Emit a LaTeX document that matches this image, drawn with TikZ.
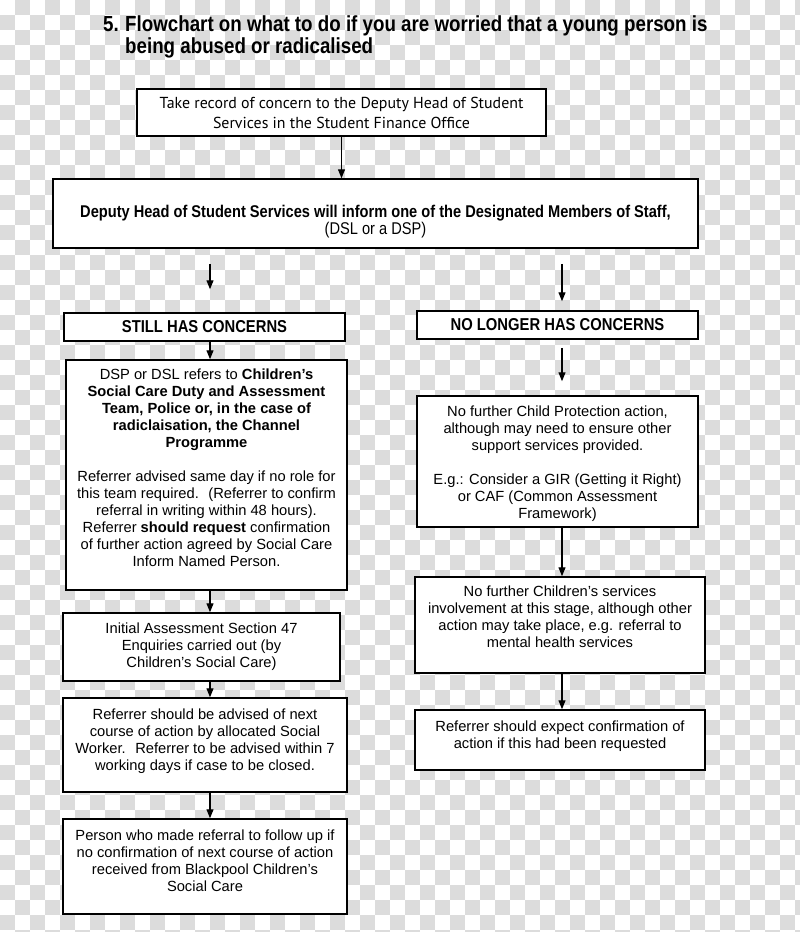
\documentclass[tikz,border=0pt]{standalone}
\usepackage{fontspec}
\setmainfont{Liberation Sans}
\newfontfamily\narrowfont[FakeStretch=0.86]{Liberation Sans}
\newfontfamily\captionfont{PT Sans}
\usetikzlibrary{arrows.meta}
\definecolor{checkgray}{RGB}{220,220,220}
\newcommand\lift[1]{\rule{0pt}{#1}}

\begin{document}
\begin{tikzpicture}[x=1pt, y=-1pt,
        box/.style={draw=black, line width=1.5pt, fill=white, inner sep=0pt, align=center, font=\fontsize{14.7}{17}\selectfont},
        arr/.style={line width=1.2pt, -{Triangle[length=9pt,width=7pt]}}]
    \useasboundingbox (0,0) rectangle (800,932);
    \begin{scope}
        \clip (0,0) rectangle (800,932);
        \fill[white] (0,0) rectangle (800,932);
        \foreach \i in {0,30,...,780}
            \foreach \j in {0,30,...,930} {
                \fill[checkgray] (\i+15,\j) rectangle ++(15,15);
                \fill[checkgray] (\i,\j+15) rectangle ++(15,15);
            }
    \end{scope}

    \node[anchor=north west, inner sep=0pt, font=\narrowfont\bfseries\fontsize{21.8}{22}\selectfont] (num) at (103,16) {5.};
    \node[anchor=north west, inner sep=0pt, align=left, font=\narrowfont\bfseries\fontsize{21.8}{22}\selectfont] (title) at (125,16) {Flowchart on what to do if you are worried that a young person is\\being abused or radicalised};

    \node[box, font=\captionfont\fontsize{15.9}{20}\selectfont, minimum width=409pt, minimum height=47pt] (record) at (341.5,112.5) {Take record of concern to the Deputy Head of Student\\Services in the Student Finance Office};
    \node[box, font=\narrowfont\fontsize{17}{17}\selectfont, minimum width=645pt, minimum height=69pt] (inform) at (375.5,213.5) {\lift{29pt}\textbf{Deputy Head of Student Services will inform one of the Designated Members of Staff,}\\(DSL or a DSP)};

    \node[box, font=\narrowfont\bfseries\fontsize{17.2}{17}\selectfont, minimum width=281pt, minimum height=28pt] (still) at (204.5,327) {STILL HAS CONCERNS};
    \node[box, font=\narrowfont\bfseries\fontsize{17.2}{17}\selectfont, minimum width=281pt, minimum height=28pt] (nolonger) at (557.5,325) {NO LONGER HAS CONCERNS};

    \node[box, minimum width=281pt, minimum height=230pt] (refers) at (206.5,475) {DSP or DSL refers to \textbf{Children’s}\\\textbf{Social Care Duty and Assessment}\\\textbf{Team, Police or, in the case of}\\\textbf{radiclaisation, the Channel}\\\textbf{Programme}\\[17pt]Referrer advised same day if no role for\\this team required.~ (Referrer to confirm\\referral in writing within 48 hours).\\Referrer \textbf{should request} confirmation\\of further action agreed by Social Care\\Inform Named Person.\\[-2pt]\mbox{}};
    \node[box, minimum width=277pt, minimum height=68pt] (initial) at (201.5,647) {Initial Assessment Section 47\\Enquiries carried out (by\\Children’s Social Care)};
    \node[box, minimum width=284pt, minimum height=94pt] (advised) at (205,745) {\lift{17pt}Referrer should be advised of next\\course of action by allocated Social\\Worker.~ Referrer to be advised within 7\\working days if case to be closed.\\\mbox{}};
    \node[box, minimum width=284pt, minimum height=95pt] (follow) at (205,866.5) {\lift{15pt}Person who made referral to follow up if\\no confirmation of next course of action\\received from Blackpool Children's\\Social Care\\\mbox{}};

    \node[box, minimum width=281pt, minimum height=131pt] (noaction) at (557.5,461.5) {\lift{15pt}No further Child Protection action,\\although may need to ensure other\\support services provided.\\[17pt]E.g.: Consider a GIR (Getting it Right)\\or CAF (Common Assessment\\Framework)};
    \node[box, minimum width=290pt, minimum height=96pt] (noinvolve) at (560,625) {No further Children's services\\involvement at this stage, although other\\action may take place, e.g. referral to\\mental health services\\\mbox{}};
    \node[box, minimum width=290pt, minimum height=60pt] (expect) at (560,740) {\lift{17pt}Referrer should expect confirmation of\\action if this had been requested\\\mbox{}};

    \coordinate (lcol) at (210,0);
    \coordinate (rcol) at (562,0);
    \draw[arr] (record.south) -- (record.south |- inform.north);
    \draw[arr, shorten <=15pt, shorten >=23pt] (inform.south -| lcol) -- (still.north -| lcol);
    \draw[arr, shorten <=15pt, shorten >=9pt] (inform.south -| rcol) -- (nolonger.north -| rcol);
    \draw[arr] (still.south -| lcol) -- (refers.north -| lcol);
    \draw[arr, shorten <=8pt, shorten >=14pt] (nolonger.south -| rcol) -- (noaction.north -| rcol);
    \draw[arr] (refers.south -| lcol) -- (initial.north -| lcol);
    \draw[arr] (initial.south -| lcol) -- (advised.north -| lcol);
    \draw[arr] (advised.south -| lcol) -- (follow.north -| lcol);
    \draw[arr] (noaction.south -| rcol) -- (noinvolve.north -| rcol);
    \draw[arr] (noinvolve.south -| rcol) -- (expect.north -| rcol);
\end{tikzpicture}
\end{document}
